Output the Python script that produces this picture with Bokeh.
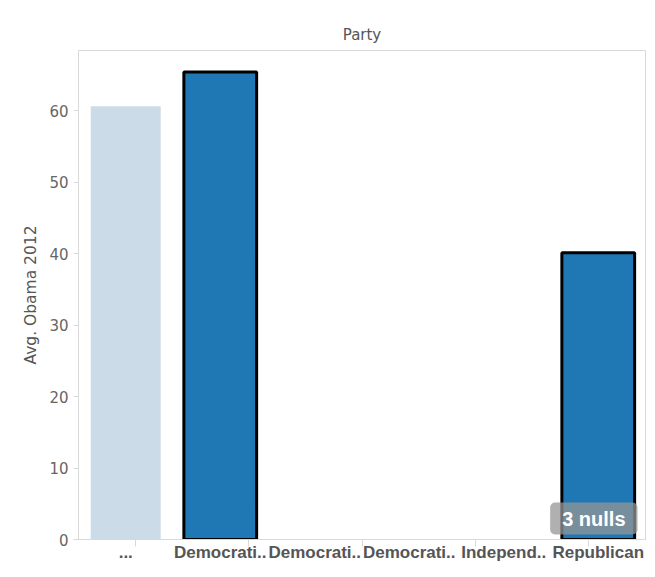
from bokeh.plotting import figure
from bokeh.models import (FactorRange, Range1d, CategoricalAxis, FixedTicker,
                          CustomJSTickFormatter, Label, ColumnDataSource)
from bokeh.embed import file_html
from bokeh.resources import INLINE

# ---- data ----
categories = ["(blank)", "Democrat", "Democratic-A", "Democratic-B", "Independent", "Republican"]
tick_labels = ["...", "Democrati..", "Democrati..", "Democrati..", "Independ..", "Republican"]
avg_obama_2012 = [60.6, 65.4, None, None, None, 40.1]
highlighted = [False, True, True, True, True, True]
y_ticks = [0, 10, 20, 30, 40, 50, 60]
y_max = 68.4

null_count = sum(1 for v in avg_obama_2012 if v is None)

def src(flag):
    xs, ys = [], []
    for c, v, h in zip(categories, avg_obama_2012, highlighted):
        if h == flag and v is not None:
            xs.append(c)
            ys.append(v)
    return ColumnDataSource(dict(cat=xs, val=ys))

GRID = "#d9d9d9"
FONT = "DejaVu Sans"
XFONT = "Liberation Sans"

p = figure(x_range=FactorRange(factors=categories), y_range=Range1d(0, y_max),
           width=647, height=569, output_backend="svg", toolbar_location=None,
           x_axis_location=None,
           min_border_left=78, min_border_top=50, min_border_right=2, min_border_bottom=30)
p.background_fill_color = "white"
p.border_fill_color = "white"
p.outline_line_color = GRID
p.grid.visible = False

p.vbar(x="cat", top="val", bottom=0, width=0.74, source=src(False),
       fill_color="#ccdbe8", line_color=None)
p.vbar(x="cat", top="val", bottom=0, width=0.77, source=src(True),
       fill_color="#1f77b4", line_color="black", line_width=3)

# y axis
ya = p.yaxis[0]
ya.ticker = FixedTicker(ticks=y_ticks)
ya.axis_line_color = GRID
ya.major_tick_line_color = GRID
ya.major_tick_in = 0
ya.major_tick_out = 5
ya.minor_tick_line_color = None
ya.major_label_text_font = FONT
ya.major_label_text_font_size = "15px"
ya.major_label_text_color = "#666666"
ya.major_label_standoff = 5
ya.axis_label = "Avg. Obama 2012"
ya.axis_label_text_font = FONT
ya.axis_label_text_font_size = "15.5px"
ya.axis_label_text_font_style = "normal"
ya.axis_label_text_color = "#555555"
ya.axis_label_standoff = 6

# separator ticks at category boundaries: a categorical range of boundary
# factors, shifted by half a band so its ticks fall between the categories
boundaries = [f"b{i}" for i in range(len(categories) + 1)]
p.extra_x_ranges = {"sep": FactorRange(factors=boundaries, range_padding=-1,
                                       range_padding_units="absolute")}
sep_axis = CategoricalAxis(x_range_name="sep",
                           axis_line_color=GRID, major_tick_line_color=GRID,
                           major_tick_in=0, major_tick_out=7,
                           formatter=CustomJSTickFormatter(code="return ''"),
                           major_label_text_font_size="1px", major_label_standoff=0)
p.add_layout(sep_axis, "below")

cat_axis = CategoricalAxis(axis_line_color=None, major_tick_line_color=None,
                           major_tick_out=0, major_tick_in=0,
                           formatter=CustomJSTickFormatter(
                               args=dict(names=categories, labels=tick_labels),
                               code="const i = names.indexOf(tick); return i >= 0 ? labels[i] : tick;"),
                           major_label_standoff=-4,
                           major_label_text_font=XFONT,
                           major_label_text_font_size="17px",
                           major_label_text_font_style="bold",
                           major_label_text_color="#555555")
p.add_layout(cat_axis, "below")

# header title
p.title.text = "Party"
p.title.align = "center"
p.title.text_font = FONT
p.title.text_font_size = "15px"
p.title.text_font_style = "normal"
p.title.text_color = "#555555"
p.title.standoff = 13

# nulls badge
p.add_layout(Label(x=559, y=5, x_units="screen", y_units="screen",
                   text=f"{null_count} nulls", text_align="right", text_baseline="bottom",
                   text_font=XFONT, text_font_size="20px", text_font_style="bold",
                   text_color="white",
                   background_fill_color="#969696", background_fill_alpha=0.75,
                   padding=(12, 5), border_radius=5))

open("out.html", "w").write(file_html(p, INLINE))
